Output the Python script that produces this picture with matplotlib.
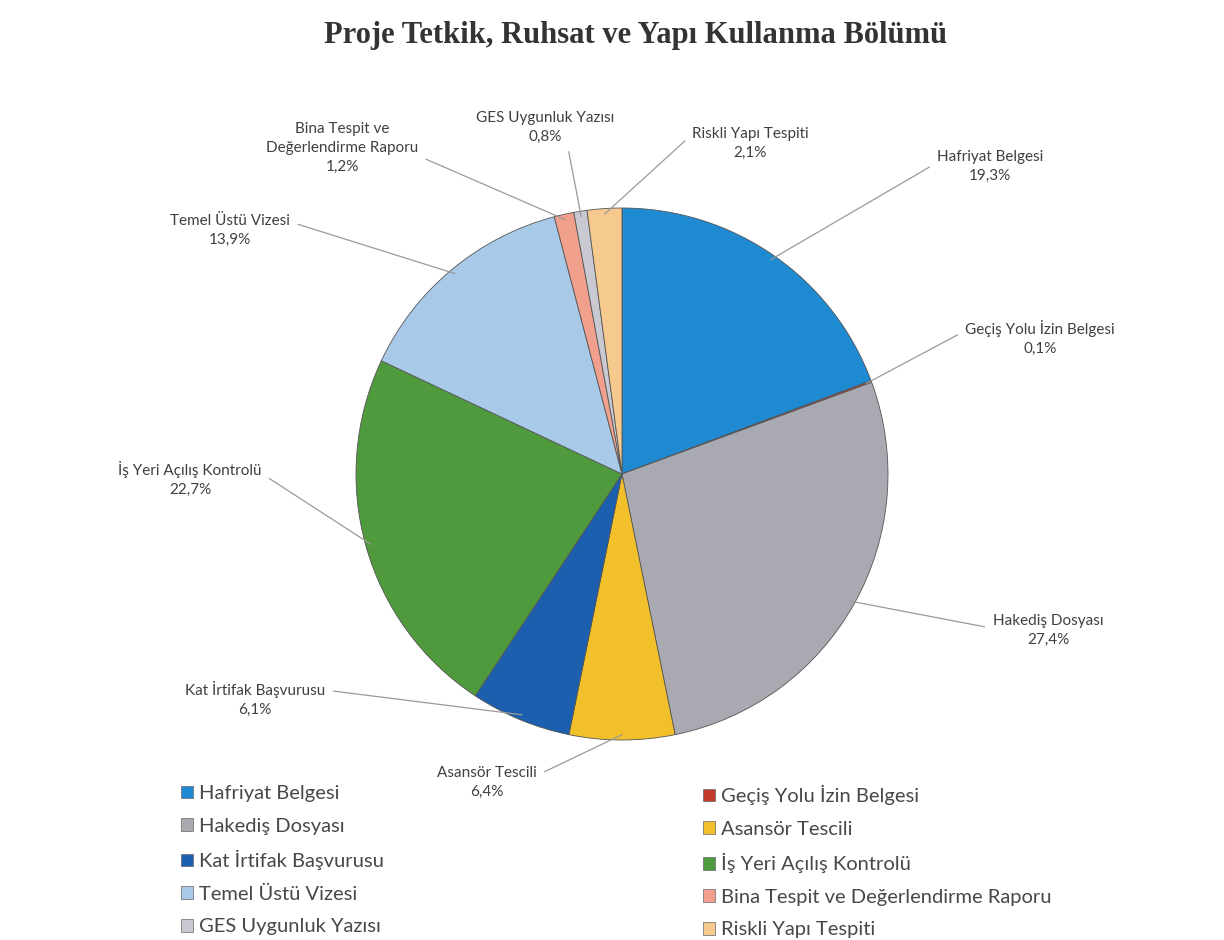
import numpy as np
import matplotlib.pyplot as plt
from matplotlib.patches import Patch

# data
categories = ['Hafriyat Belgesi', 'Geçiş Yolu İzin Belgesi', 'Hakediş Dosyası',
              'Asansör Tescili', 'Kat İrtifak Başvurusu', 'İş Yeri Açılış Kontrolü',
              'Temel Üstü Vizesi', 'Bina Tespit ve Değerlendirme Raporu',
              'GES Uygunluk Yazısı', 'Riskli Yapı Tespiti']
label_names = ['Hafriyat Belgesi', 'Geçiş Yolu İzin Belgesi', 'Hakediş Dosyası',
               'Asansör Tescili', 'Kat İrtifak Başvurusu', 'İş Yeri Açılış Kontrolü',
               'Temel Üstü Vizesi', 'Bina Tespit ve\nDeğerlendirme Raporu',
               'GES Uygunluk Yazısı', 'Riskli Yapı Tespiti']
shares = [19.3, 0.1, 27.4, 6.4, 6.1, 22.7, 13.9, 1.2, 0.8, 2.1]
colors = ['#1d8ad2', '#c0392b', '#a9a9b2', '#f2c02a', '#1c5fae', '#4f9a3c',
          '#a9c9e8', '#f0a08c', '#c9c9d2', '#f6c98e']

# label block centres in pixels (y measured from top) and leader start on the text box
label_pos = [(990, 166), (1040, 338), (1048, 630), (487, 782), (255, 699),
             (190, 479), (230, 230), (342, 148), (545, 127), (750, 143)]
leader_rel = [(0, 0.6), (0, 0.7), (0, 0.55), (1, 0.7), (1, 0.75),
              (1, 0.65), (1, 0.75), (1, 0.35), (0.66, 0), (0, 0.75)]

W, H = 1224, 940
cx, cy, r = 622, H - 474, 266

plt.rcParams['font.family'] = ['Lato', 'DejaVu Sans']
fig = plt.figure(figsize=(W / 100, H / 100), dpi=100)
ax = fig.add_axes([0, 0, 1, 1])

wedges, _ = ax.pie(shares, colors=colors, startangle=90, counterclock=False,
                   center=(cx, cy), radius=r,
                   wedgeprops=dict(edgecolor='#555555', linewidth=0.6))
ax.set_xlim(0, W)
ax.set_ylim(0, H)
ax.axis('off')

# labels with leader lines
cum = np.cumsum([0] + shares[:-1])
for i, (name, v) in enumerate(zip(label_names, shares)):
    ang = np.deg2rad(90 - 360 * (cum[i] + v / 2) / 100)
    anchor = (cx + 0.98 * r * np.cos(ang), cy + 0.98 * r * np.sin(ang))
    tx, ty = label_pos[i]
    pct = f'{v:.1f}%'.replace('.', ',')
    ax.annotate(f'{name}\n{pct}', xy=anchor, xytext=(tx, H - ty),
                ha='center', va='center', fontsize=11, color='#404040',
                linespacing=1.45,
                arrowprops=dict(arrowstyle='-', color='#9a9a9a', lw=0.9,
                                relpos=leader_rel[i], shrinkA=4, shrinkB=0))

ax.text(636, H - 36, 'Proje Tetkik, Ruhsat ve Yapı Kullanma Bölümü',
        ha='center', va='center', fontsize=22, fontweight='bold',
        family='Liberation Serif', color='#333333')

# legend: two columns, row-major order
handles = [Patch(facecolor=c, edgecolor='#666666', linewidth=0.5) for c in colors]
legends = []
for col, x0 in ((0, 181), (1, 703)):
    idx = list(range(col, len(categories), 2))
    leg = ax.legend([handles[i] for i in idx], [categories[i] for i in idx],
                    loc='upper left', bbox_to_anchor=(x0, H - 785),
                    bbox_transform=ax.transData, frameon=False,
                    fontsize=14.5, labelcolor='#484848',
                    handlelength=0.6, handleheight=0.6, handletextpad=0.3,
                    labelspacing=0.77, borderpad=0, borderaxespad=0)
    legends.append(leg)
ax.add_artist(legends[0])

fig.savefig('out.png', dpi=100, facecolor='white')
